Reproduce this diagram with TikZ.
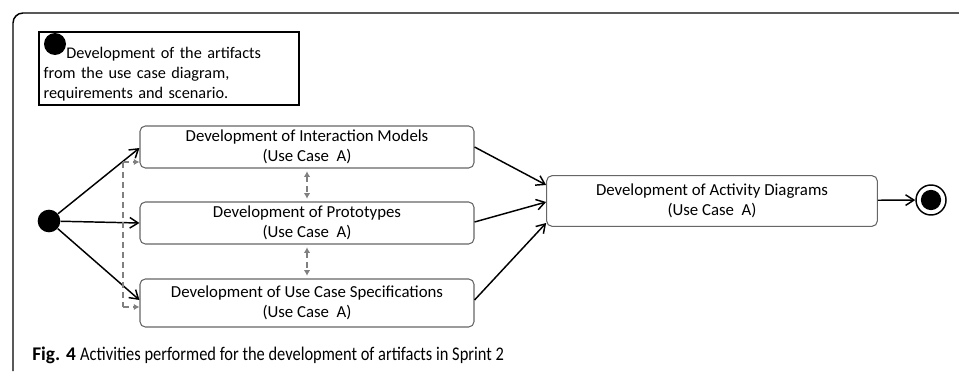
\documentclass[tikz,border=0pt]{standalone}
\usepackage{fontspec}
\setmainfont{Carlito}
\newfontfamily\capfont[FakeStretch=0.85]{Carlito}
\usetikzlibrary{arrows.meta}

\begin{document}
\begin{tikzpicture}[
  x=0.75pt,
  y=-0.75pt,
  font=\fontsize{12.6}{15}\selectfont,
  line/.style={draw=black,line width=1.1pt},
  arrow/.style={line,-{Straight Barb[length=2.2mm,width=2.8mm,line width=1.1pt]}},
  link/.style={draw=gray,line width=1.1pt,dash pattern=on 4.5pt off 3pt},
  linkarrow/.style={link,-{Latex[length=1.5mm,width=1.7mm]}},
  linkboth/.style={link,{Latex[length=1.5mm,width=1.7mm]}-{Latex[length=1.5mm,width=1.7mm]}},
  activity/.style={draw=black!60,line width=0.8pt,rounded corners=4pt,fill=white,align=center,minimum width=250.5pt,inner sep=2pt},
  start/.style={circle,fill=black,inner sep=0pt,minimum size=17pt},
  stop/.style={circle,draw=black,line width=1.1pt,inner sep=0pt,minimum size=22.5pt,
    path picture={\fill (path picture bounding box.center) circle (7.6pt);}},
  legendbox/.style={draw=black,line width=1.5pt,anchor=north west,align=left,
    minimum width=195pt,inner sep=3pt,text width=188pt,
    font=\fontsize{12.2}{15}\selectfont}
]
\useasboundingbox (0,0) rectangle (959,371);

% Frame
\draw[line width=1.1pt,rounded corners=7.5pt] (13,371) -- (13,13) -- (959,13);

% Legend
\node[legendbox] (legend) at (38,31)
  {\rule{0pt}{17pt}\hspace*{17pt}Development of the artifacts\\from the use case diagram,\\requirements and scenario.};
\node[start,minimum size=16.5pt] (legdot) at (55,44) {};

% Activities
\node[start] (init) at (49,221) {};
\node[activity,minimum height=31.5pt] (inter) at (307,147)
  {Development of Interaction Models\\(Use Case\ \ A)};
\node[activity,minimum height=31.5pt] (proto) at (307,223)
  {Development of Prototypes\\(Use Case\ \ A)};
\node[activity,minimum height=36pt] (spec) at (307,303)
  {Development of Use Case Specifications\\(Use Case\ \ A)};
\node[activity,minimum width=248pt,minimum height=38pt] (activ) at (712,201)
  {Development of Activity Diagrams\\(Use Case\ \ A)};
\node[stop] (final) at (931,200) {};

% Fork arrows
\draw[arrow] (init) -- (inter.west |- 0,148);
\draw[arrow] (init) -- (proto.west |- 0,223);
\draw[arrow] (init) -- (spec.west |- 0,300);

% Dashed links
\coordinate (forktop) at (123,162);
\coordinate (forkbot) at (123,307);
\draw[link] (forktop) -- (forkbot);
\draw[linkarrow] (forktop) -- (inter.west |- forktop);
\draw[linkarrow] (forkbot) -- (spec.west |- forkbot);
\draw[linkboth] ([yshift=-2pt]inter.south) -- ([yshift=2pt]proto.north);
\draw[linkboth] ([yshift=-2pt]proto.south) -- ([yshift=2pt]spec.north);

% Join arrows
\draw[arrow] (inter.east |- 0,147) -- (activ.west |- 0,185);
\draw[arrow] (proto.east |- 0,222) -- (activ.west |- 0,202);
\draw[arrow] (spec.east |- 0,300) -- (activ.west |- 0,223);
\draw[arrow] (activ) -- (final);

% Caption
\node[anchor=west,inner sep=0pt,font=\fontsize{14.5}{16}\selectfont] (caption) at (32,355)
  {\textbf{Fig. 4} \capfont Activities performed for the development of artifacts in Sprint 2};
\end{tikzpicture}
\end{document}
